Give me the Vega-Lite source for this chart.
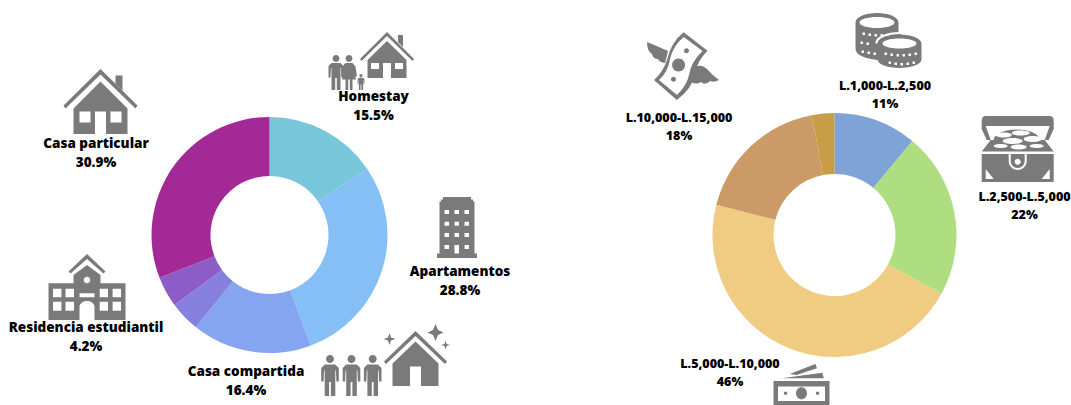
{"$schema":"https://vega.github.io/schema/vega-lite/v6.json","width":1071,"height":405,"autosize":"none","padding":0,"background":"white","config":{"view":{"stroke":null}},
"layer":[
{"data":{"values":[{"categoria":"Homestay","pct":15.5,"orden":1},{"categoria":"Apartamentos","pct":28.8,"orden":2},{"categoria":"Casa compartida","pct":16.4,"orden":3},{"categoria":"Residencia estudiantil","pct":4.2,"orden":4},{"categoria":"Otro","pct":4.2,"orden":5},{"categoria":"Casa particular","pct":30.9,"orden":6}]},
"mark":{"type":"arc","radius":118,"radius2":59},
"encoding":{"x":{"datum":269.5,"type":"quantitative","scale":{"domain":[0,1071],"range":[0,1071]},"axis":null},"y":{"datum":235,"type":"quantitative","scale":{"domain":[0,405],"range":[0,405]},"axis":null},"theta":{"field":"pct","type":"quantitative","stack":true},"order":{"field":"orden"},"color":{"field":"categoria","type":"nominal","legend":null,"scale":{"domain":["Homestay","Apartamentos","Casa compartida","Residencia estudiantil","Otro","Casa particular","L.1,000-L.2,500","L.2,500-L.5,000","L.5,000-L.10,000","L.10,000-L.15,000","Más de L.15,000"],"range":["#78c6d9","#85bff6","#86a5f1","#8880df","#8c5cc7","#a32a96","#7fa2d7","#aede7f","#f0cb82","#cc9a66","#c79e45"]}}}},
{"data":{"values":[{"categoria":"L.1,000-L.2,500","pct":11,"orden":1},{"categoria":"L.2,500-L.5,000","pct":22,"orden":2},{"categoria":"L.5,000-L.10,000","pct":46,"orden":3},{"categoria":"L.10,000-L.15,000","pct":18,"orden":4},{"categoria":"Más de L.15,000","pct":3,"orden":5}]},
"mark":{"type":"arc","radius":122,"radius2":61},
"encoding":{"x":{"datum":834.5,"type":"quantitative","scale":{"domain":[0,1071],"range":[0,1071]},"axis":null},"y":{"datum":235,"type":"quantitative","scale":{"domain":[0,405],"range":[0,405]},"axis":null},"theta":{"field":"pct","type":"quantitative","stack":true},"order":{"field":"orden"},"color":{"field":"categoria","type":"nominal","legend":null}}},
{"data":{"values":[
{"icono":"casa","x":100.5,"y":101.5},{"icono":"casita","x":387,"y":55},{"icono":"hombre","x":336,"y":72.5},{"icono":"mujer","x":349,"y":72.5},{"icono":"nino","x":361,"y":82},{"icono":"casa_brillo","x":415.5,"y":358.5},{"icono":"adulto","x":330,"y":375.5},{"icono":"adulto","x":351.5,"y":375.5},{"icono":"adulto","x":372.7,"y":375.5},{"icono":"edificio","x":457,"y":227.5},{"icono":"escuela","x":87,"y":287},{"icono":"monedas","x":888.5,"y":40.5},{"icono":"billete","x":683,"y":66},{"icono":"cofre","x":1017.7,"y":149},{"icono":"efectivo","x":801.5,"y":400}]},
"mark":{"type":"point","filled":true,"color":"#7a7a7a","opacity":1,"strokeWidth":0,"size":4},
"encoding":{"x":{"field":"x","type":"quantitative","scale":{"domain":[0,1071],"range":[0,1071]},"axis":null},"y":{"field":"y","type":"quantitative","scale":{"domain":[0,405],"range":[0,405]},"axis":null},
"shape":{"field":"icono","type":"nominal","legend":null,"scale":{"domain":["casa","casita","hombre","mujer","nino","casa_brillo","adulto","edificio","escuela","monedas","billete","cofre","efectivo","monedas_det","cofre_det"],"range":[
"M0,-32.5L37,4L35,7L0,-27L-35,7L-37,4ZM15,-26L22,-26L22,-11L15,-18ZM0,-20L27,7L27,32.5L5.5,32.5L5.5,10L-5.5,10L-5.5,32.5L-27,32.5L-27,7ZM10,10L10,21L21,21L21,10ZM-21,10L-21,21L-10,21L-10,10Z",
"M0,-23L27,4L25.5,6L0,-19L-25.5,6L-27,4ZM11,-20L16,-20L16,-8L11,-13ZM0,-14L19.5,5L19.5,23L4,23L4,8L-4,8L-4,23L-19.5,23L-19.5,5ZM8,8L8,14L16,14L16,8ZM-16,8L-16,14L-8,14L-8,8Z",
"M-3.4,-14.1A3.4,3.4 0 1 1 3.4,-14.1A3.4,3.4 0 1 1 -3.4,-14.1ZM-4.5,-9.5H4.5L7.5,-6.5V5H5.5L5,-4.5H4.5V17.5H0.8V5.5H-0.8V17.5H-4.5V-4.5H-5L-5.5,5H-7.5V-6.5Z",
"M-3.4,-14.1A3.4,3.4 0 1 1 3.4,-14.1A3.4,3.4 0 1 1 -3.4,-14.1ZM-3.5,-9.5H3.5L6.5,-6L8,4H6.3L4.5,-3L7,7H3.5V17.5H0.8V7H-0.8V17.5H-3.5V7H-7L-4.5,-3L-6.3,4H-8L-6.5,-6Z",
"M-1.6,-6.4A1.6,1.6 0 1 1 1.6,-6.4A1.6,1.6 0 1 1 -1.6,-6.4ZM-2.1,-4.3H2.1L3.4,-3V2.3H2.5L2.3,-2H2.1V8H0.4V2.5H-0.4V8H-2.1V-2H-2.3L-2.5,2.3H-3.4V-3Z",
"M0,-27.5L31.5,3L29.5,5.5L0,-22.5L-29.5,5.5L-31.5,3ZM0,-17L23,5L23,27.5L5.5,27.5L5.5,8L-5.5,8L-5.5,27.5L-23,27.5L-23,5ZM20,-34.5L22.5,-28.5L28,-26L22.5,-23.5L20,-17.5L17.5,-23.5L12,-26L17.5,-28.5ZM-26,-25.5L-24.5,-21L-20,-19.5L-24.5,-18L-26,-13.5L-27.5,-18L-32,-19.5L-27.5,-21ZM30,-18L31,-14.5L34.5,-13.5L31,-12.5L30,-9L29,-12.5L25.5,-13.5L29,-14.5Z",
"M-4,-16.5A4,4 0 1 1 4,-16.5A4,4 0 1 1 -4,-16.5ZM-5.3,-11.1H5.3L8.8,-7.6V5.9H6.4L5.9,-5.3H5.3V20.5H0.9V6.4H-0.9V20.5H-5.3V-5.3H-5.9L-6.4,5.9H-8.8V-7.6Z",
"M-14,-30.5H14V-28H16V-26H17.5V26H20V30.5H-20V26H-17.5V-26H-16V-28H-14ZM-12.5,-17.5v4h4.5v-4zM-2.5,-17.5v4h4.5v-4zM7.5,-17.5v4h4.5v-4zM-12.5,-5.8v4h4.5v-4zM-2.5,-5.8v4h4.5v-4zM7.5,-5.8v4h4.5v-4zM-12.5,5.5v4h4.5v-4zM-2.5,5.5v4h4.5v-4zM7.5,5.5v4h4.5v-4zM-12.5,17.5v4h4.5v-4zM-2.5,17.5v8.5h4.5v-8.5zM7.5,17.5v4h4.5v-4z",
"M0,-33L18.5,-15.5L16.5,-13.5L0,-28L-16.5,-13.5L-18.5,-15.5ZM0,-22L13.5,-12L13.5,-3.7L38.5,-3.7L38.5,33L7.5,33L7.5,20A7.5,6 0 0 0 -7.5,20L-7.5,33L-38.5,33L-38.5,-3.7L-13.5,-3.7L-13.5,-12ZM3.3,-7A3.3,3.3 0 1 0 -3.3,-7A3.3,3.3 0 1 0 3.3,-7ZM-34,1.7v8.6h8.4v-8.6zM-21.5,1.7v8.6h8.5v-8.6zM12.7,1.7v8.6h8.3v-8.6zM25.6,1.7v8.6h8.4v-8.6zM-34,14.7v9h8.4v-9zM-21.5,14.7v9h8.5v-9zM12.7,14.7v9h8.3v-9zM25.6,14.7v9h8.4v-9zM-7.5,6.3v4h15v-4z",
"M-33,-18A21.5,9.5 0 0 1 10,-18L10,-8Q15,-6 15,0L15,10L-5,20Q-33,18 -33,8ZM-11,3A22,9 0 0 1 33,3L33,19A22,8.5 0 0 1 -11,19Z",
"M0.7,-33.7L24.6,-15.3Q14,-5 12,8Q9,23 -6.2,34L-29,14Q-20,6 -16,-6Q-12,-24 0.7,-33.7ZM0.7,-29Q-10,-20 -13,-7Q-15,6 -24,14L-6,29Q4,19 6,9Q8,-4 19.5,-15ZM-10.9,-1A6.5,6.5 0 1 1 2.1,-1A6.5,6.5 0 1 1 -10.9,-1ZM1,-15.3A2.5,2.5 0 1 1 6,-15.3A2.5,2.5 0 1 1 1,-15.3ZM-12,13.3A2.5,2.5 0 1 1 -7,13.3A2.5,2.5 0 1 1 -12,13.3ZM-36,-24Q-26,-20 -15,-15L-18,-3Q-24,-4 -25,-7Q-30,-7 -31,-12Q-36,-15 -36,-24ZM10,2Q18,-3 24,3Q30,10 36,14Q31,17 27,15Q22,20 18,16Q13,19 8,16Z",
"M-32,-33H32Q36,-33 36,-28V-23H-36V-28Q-36,-33 -32,-33ZM-36,-23H-32L-27,-9H-31L-36,-20ZM36,-23H32L27,-9H31L36,-20ZM-27,-9L-36,2.5H36L27,-9ZM-24,-9A22,10 0 0 1 22,-9ZM-36,5H36V33H-36Z",
"M-28,-19H28V25H-28ZM-23.5,-13.5V1H23.5V-13.5ZM-5.5,-6.7A5.5,6 0 1 1 5.5,-6.7A5.5,6 0 1 1 -5.5,-6.7ZM-17.7,-6.7A1.7,1.7 0 1 1 -14.3,-6.7A1.7,1.7 0 1 1 -17.7,-6.7ZM14.3,-6.7A1.7,1.7 0 1 1 17.7,-6.7A1.7,1.7 0 1 1 14.3,-6.7ZM-11.8,-26L13.8,-36L15.5,-31.7L-5,-25ZM-19.7,-21.7L20.7,-27.3L22.4,-21.7Z",
"M-29,-18A17.5,5.5 0 1 1 6,-18A17.5,5.5 0 1 1 -29,-18ZM-6,3A17,5 0 1 1 28,3A17,5 0 1 1 -6,3ZM-13,3A24,11 0 0 1 13,-8.5L13,-6.5A22,9.5 0 0 0 -11,3ZM-26,-8h2.5v2.5h-2.5zM-20,-7h2.5v2.5h-2.5zM-14,-6.5h2.5v2.5h-2.5zM-8,-6.5h2.5v2.5h-2.5zM-2,-7h2.5v2.5h-2.5zM-28,1h2.5v2.5h-2.5zM-22,2h2.5v2.5h-2.5zM-27,10h2.5v2.5h-2.5zM-21,11h2.5v2.5h-2.5zM-15,12h2.5v2.5h-2.5zM-4,12h2.5v2.5h-2.5zM2,13h2.5v2.5h-2.5zM8,13.5h2.5v2.5h-2.5zM14,13.5h2.5v2.5h-2.5zM20,13h2.5v2.5h-2.5zM26,12h2.5v2.5h-2.5zM0,21h2.5v2.5h-2.5zM6,22h2.5v2.5h-2.5zM12,22.5h2.5v2.5h-2.5zM18,22h2.5v2.5h-2.5zM24,21h2.5v2.5h-2.5z",
"M-22,-14A8,2.5 0 1 1 -6,-14A8,2.5 0 1 1 -22,-14ZM-6,-16A9,2.5 0 1 1 12,-16A9,2.5 0 1 1 -6,-16ZM-15,-8A10,3 0 1 1 5,-8A10,3 0 1 1 -15,-8ZM6,-10A9,3 0 1 1 24,-10A9,3 0 1 1 6,-10ZM-24,-3A7,2 0 1 1 -10,-3A7,2 0 1 1 -24,-3ZM-7,-2A8,2.5 0 1 1 9,-2A8,2.5 0 1 1 -7,-2ZM12,-3A7,2 0 1 1 26,-3A7,2 0 1 1 12,-3ZM-9,5L-9,12A9,9 0 0 0 9,12L9,5L7,5L7,12A7,7 0 0 1 -7,12L-7,5ZM-3,12.7A3,3 0 1 1 3,12.7A3,3 0 1 1 -3,12.7ZM-32,30L-32,20L-24,30ZM32,30L32,20L24,30Z"
]}}}},
{"data":{"values":[{"icono":"monedas_det","x":888.5,"y":40.5},{"icono":"cofre_det","x":1017.7,"y":149}]},
"mark":{"type":"point","filled":true,"color":"#ffffff","opacity":1,"strokeWidth":0,"size":4},
"encoding":{"x":{"field":"x","type":"quantitative","scale":{"domain":[0,1071],"range":[0,1071]},"axis":null},"y":{"field":"y","type":"quantitative","scale":{"domain":[0,405],"range":[0,405]},"axis":null},"shape":{"field":"icono","type":"nominal","legend":null}}},
{"data":{"values":[
{"etiqueta":"Homestay\n15.5%","x":373.5,"y":97},{"etiqueta":"Casa particular\n30.9%","x":96,"y":144},{"etiqueta":"Apartamentos\n28.8%","x":460,"y":272},{"etiqueta":"Residencia estudiantil\n4.2%","x":86,"y":328},{"etiqueta":"Casa compartida\n16.4%","x":246,"y":372}]},
"mark":{"type":"text","font":"Open Sans","fontWeight":800,"fontSize":13.5,"lineBreak":"\n","lineHeight":19,"align":"center","baseline":"middle","color":"#000000"},
"encoding":{"x":{"field":"x","type":"quantitative","scale":{"domain":[0,1071],"range":[0,1071]},"axis":null},"y":{"field":"y","type":"quantitative","scale":{"domain":[0,405],"range":[0,405]},"axis":null},"text":{"field":"etiqueta","type":"nominal"}}},
{"data":{"values":[
{"etiqueta":"L.1,000-L.2,500\n11%","x":885,"y":85.5},{"etiqueta":"L.10,000-L.15,000\n18%","x":679,"y":117.5},{"etiqueta":"L.2,500-L.5,000\n22%","x":1024.5,"y":196.5},{"etiqueta":"L.5,000-L.10,000\n46%","x":730,"y":363.5}]},
"mark":{"type":"text","font":"Open Sans","fontWeight":800,"fontSize":12.5,"lineBreak":"\n","lineHeight":18,"align":"center","baseline":"middle","color":"#000000"},
"encoding":{"x":{"field":"x","type":"quantitative","scale":{"domain":[0,1071],"range":[0,1071]},"axis":null},"y":{"field":"y","type":"quantitative","scale":{"domain":[0,405],"range":[0,405]},"axis":null},"text":{"field":"etiqueta","type":"nominal"}}}
]}
